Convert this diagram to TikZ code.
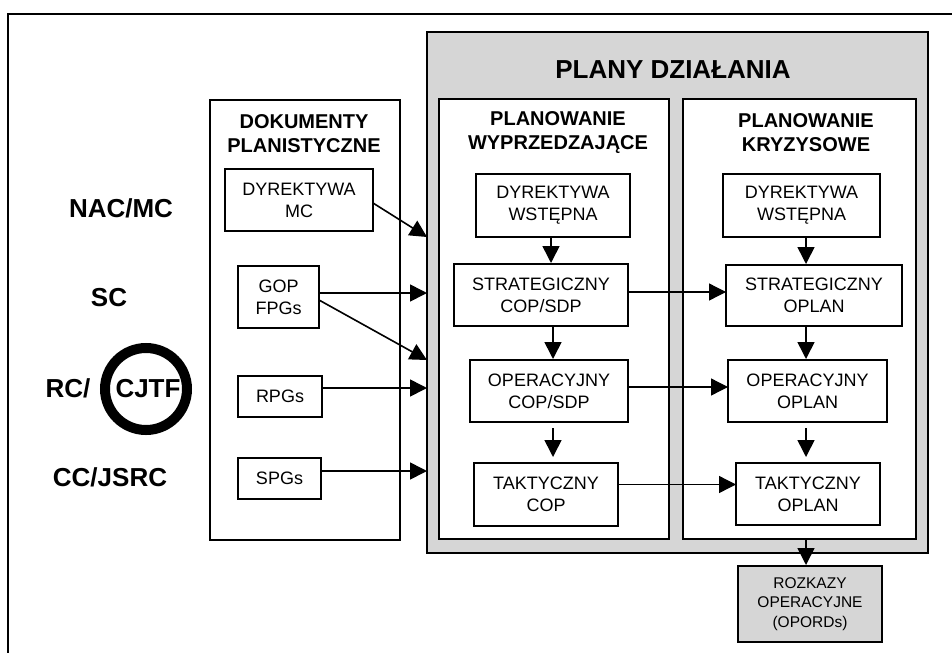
\documentclass[tikz,border=0pt]{standalone}
\usepackage{fontspec}
\setmainfont{Liberation Sans}
\usetikzlibrary{arrows.meta}
\definecolor{panelgray}{HTML}{D6D6D6}
\tikzset{
  every node/.style={inner sep=0pt, outer sep=0pt},
  box/.style={draw, line width=1.4pt, fill=white, align=center,
    font=\fontsize{18}{22}\selectfont},
  column/.style={draw, line width=1.7pt, fill=white},
  head/.style={align=center, font=\bfseries\fontsize{20}{24}\selectfont},
  side/.style={font=\bfseries\fontsize{26}{30}\selectfont},
  arr/.style={line width=1.6pt, -{Triangle[length=17pt,width=17pt]}},
  thinarr/.style={line width=1.3pt, -{Triangle[length=17pt,width=17pt]}},
}
\begin{document}
\begin{tikzpicture}[x=1pt,y=-1pt]
\useasboundingbox (0,0) rectangle (952,653);
\fill[white] (0,0) rectangle (952,653);
% outer frame
\draw[line width=1.4pt] (952,14) -- (8,14) -- (8,653);

% left labels
\node[side] (nac) at (121,208) {NAC/MC};
\node[side] (sc) at (109,298) {SC};
\node[side] (rc) at (68,388) {RC/};
\node[circle, draw, line width=10pt, minimum size=82pt] (ring) at (146,389) {};
\node[side] (cjtf) at (148,389) {CJTF};
\node[side] (cc) at (110,477) {CC/JSRC};

% documents column
\node[column, minimum width=190pt, minimum height=440pt] (dok) at (305,320) {};
\node[head] (dokh) at (304,134) {DOKUMENTY\\PLANISTYCZNE};
\node[box, minimum width=148pt, minimum height=62pt] (dmc) at (299,200) {DYREKTYWA\\MC};
\node[box, minimum width=81pt, minimum height=62pt] (gop) at (278.5,297) {GOP\\FPGs};
\node[box, minimum width=84pt, minimum height=41pt] (rpg) at (280,396.5) {RPGs};
\node[box, minimum width=83pt, minimum height=41pt] (spg) at (279.5,478.5) {SPGs};

% plans panel
\node[draw, line width=2.4pt, fill=panelgray, minimum width=501pt, minimum height=521pt] (gray) at (677.5,292.5) {};
\node[font=\bfseries\fontsize{26}{30}\selectfont] (title) at (673,70) {PLANY DZIAŁANIA};
\node[column, minimum width=230pt, minimum height=440pt] (wyp) at (554,319) {};
\node[column, minimum width=233pt, minimum height=440pt] (kry) at (799.5,319) {};
\node[head] (wyph) at (558,133) {PLANOWANIE\\WYPRZEDZAJĄCE};
\node[head] (kryh) at (806,133) {PLANOWANIE\\KRYZYSOWE};

% left column boxes
\node[box, minimum width=154pt, minimum height=63pt] (dw1) at (553,205.5) {DYREKTYWA\\WSTĘPNA};
\node[box, minimum width=174pt, minimum height=62pt] (st1) at (541,295) {STRATEGICZNY\\COP/SDP};
\node[box, minimum width=158pt, minimum height=62pt] (op1) at (549,391) {OPERACYJNY\\COP/SDP};
\node[box, minimum width=144pt, minimum height=63pt] (ta1) at (546,494.5) {TAKTYCZNY\\COP};

% right column boxes
\node[box, minimum width=157pt, minimum height=63pt] (dw2) at (801.5,205.5) {DYREKTYWA\\WSTĘPNA};
\node[box, minimum width=176pt, minimum height=61pt] (st2) at (814,295.5) {STRATEGICZNY\\OPLAN};
\node[box, minimum width=159pt, minimum height=62pt] (op2) at (807.5,391) {OPERACYJNY\\OPLAN};
\node[box, minimum width=144pt, minimum height=62pt] (ta2) at (808,494) {TAKTYCZNY\\OPLAN};

% orders box
\node[draw, line width=1.4pt, fill=panelgray, align=center, minimum width=144pt, minimum height=76pt,
  font=\fontsize{15.5}{19.5}\selectfont] (roz) at (810,604) {ROZKAZY\\OPERACYJNE\\(OPORDs)};

% arrow targets on the panel edge
\coordinate (t1) at (427,237);
\coordinate (t2) at (427,293);
\coordinate (t3) at (427,360);
\coordinate (t4) at (427,388);
\coordinate (t5) at (427,471);

\draw[arr] ([yshift=-3pt]dmc.east) -- (t1);
\draw[arr] (gop.east |- t2) -- (t2);
\draw[arr] ([yshift=-3pt]gop.east) -- (t3);
\draw[arr] (rpg.east |- t4) -- (t4);
\draw[arr] (spg.east |- t5) -- (t5);

% vertical arrows
\draw[arr, shorten >=1pt] ([xshift=-2pt]dw1.south) -- ([xshift=-2pt]dw1.south |- st1.north);
\draw[arr, shorten >=1pt] (st1.south -| dw1.south) -- (dw1.south |- op1.north);
\draw[arr, shorten >=6pt] ([yshift=-6pt]op1.south -| dw1.south) -- (dw1.south |- ta1.north);

\draw[arr, shorten >=1pt] ([xshift=4.5pt]dw2.south) -- ([xshift=4.5pt]dw2.south |- st2.north);
\draw[arr, shorten >=1pt] ([xshift=4.5pt]dw2.south |- st2.south) -- ([xshift=4.5pt]dw2.south |- op2.north);
\draw[arr, shorten >=6pt] ([xshift=4.5pt,yshift=-6pt]dw2.south |- op2.south) -- ([xshift=4.5pt]dw2.south |- ta2.north);
\draw[arr, shorten >=1pt] ([xshift=4.5pt]dw2.south |- kry.south) -- ([xshift=4.5pt]dw2.south |- roz.north);

% horizontal arrows
\draw[thinarr] ([yshift=3pt]st1.east) -- ([yshift=3pt]st1.east -| st2.west);
\draw[thinarr] ([yshift=4pt]op1.east) -- ([yshift=4pt]op1.east -| op2.west);
\draw[thinarr] ([yshift=10pt]ta1.east) -- ([yshift=10pt]ta1.east -| ta2.west);
\end{tikzpicture}
\end{document}
